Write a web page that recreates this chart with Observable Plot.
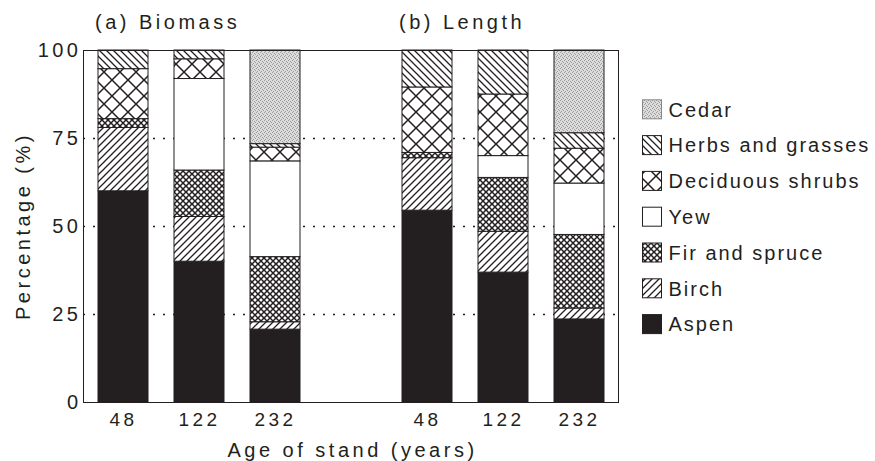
<!DOCTYPE html>
<html>
<head>
<meta charset="utf-8">
<script src="https://cdn.jsdelivr.net/npm/d3@7"></script>
<script src="https://cdn.jsdelivr.net/npm/@observablehq/plot@0.6"></script>
<style>
  html, body { margin: 0; padding: 0; background: #fff; overflow: hidden; }
  #chart { position: relative; width: 875px; height: 461px; }
  svg text { letter-spacing: 3.5px; }
  svg text.legend-text { letter-spacing: 2px; }
</style>
</head>
<body>
<div id="chart"></div>
<script>
// ---- data ----
const ages = ["48", "122", "232"];
const panels = ["a", "b"];
const panelTitles = ["(a) Biomass", "(b) Length"];
const species = ["Aspen", "Birch", "Fir and spruce", "Yew", "Deciduous shrubs", "Herbs and grasses", "Cedar"];
const yTicks = [0, 25, 50, 75, 100];
const gridTicks = [25, 50, 75];

// values per species, in the order of ages (48, 122, 232)
const biomassAspen  = [60, 40, 20.7];
const biomassBirch  = [18, 12.7, 2.1];
const biomassFir    = [2.5, 13.2, 18.5];
const biomassYew    = [0, 26, 27.2];
const biomassDecid  = [14.2, 5.6, 3.9];
const biomassHerbs  = [5.3, 2.5, 1.0];
const biomassCedar  = [0, 0, 26.6];

const lengthAspen  = [54.5, 36.9, 23.6];
const lengthBirch  = [14.9, 11.6, 3.1];
const lengthFir    = [1.5, 15.3, 20.9];
const lengthYew    = [0, 6.2, 14.6];
const lengthDecid  = [18.6, 17.5, 9.9];
const lengthHerbs  = [10.5, 12.5, 4.4];
const lengthCedar  = [0, 0, 23.5];

const biomass = [biomassAspen, biomassBirch, biomassFir, biomassYew, biomassDecid, biomassHerbs, biomassCedar];
const lengthV = [lengthAspen, lengthBirch, lengthFir, lengthYew, lengthDecid, lengthHerbs, lengthCedar];

// ---- build table ----
const slots = ["a48", "a122", "a232", "gap", "b48", "b122", "b232"];
const slotLabel = s => s === "gap" ? "" : s.slice(1);
const rows = [];
[biomass, lengthV].forEach((set, p) => {
  species.forEach((sp, i) => {
    ages.forEach((age, j) => {
      const v = set[i][j];
      if (v > 0) rows.push({slot: panels[p] + age, species: sp, value: v});
    });
  });
});

const fills = ["#231f20", "url(#pBirch)", "url(#pFir)", "#ffffff", "url(#pDecid)", "url(#pHerbs)", "url(#pCedar)"];
const ink = "#231f20";

const plot = Plot.plot({
  width: 875,
  height: 461,
  marginLeft: 83,
  marginRight: 257,
  marginTop: 50,
  marginBottom: 59,
  style: {fontFamily: "'Liberation Sans', Arial, Helvetica, sans-serif", fontSize: "20px", color: ink, background: "#fff"},
  x: {domain: slots, paddingInner: 0.346, paddingOuter: 0.173, align: 0.5, label: null},
  y: {domain: [0, 100], label: null},
  color: {domain: species, range: fills},
  marks: [
    Plot.ruleY(gridTicks, {stroke: ink, strokeWidth: 1.3, strokeDasharray: "2,8"}),
    Plot.barY(rows, Plot.stackY({x: "slot", y: "value", fill: "species", order: species, stroke: ink, strokeWidth: 1, inset: 0})),
    Plot.frame({stroke: ink, strokeWidth: 1}),
    Plot.axisY({ticks: yTicks, tickSize: 0, tickPadding: 2, label: null, fontSize: 20}),
    Plot.axisX({tickSize: 0, tickPadding: 10, tickFormat: slotLabel, label: null, fontSize: 19})
  ]
});

document.getElementById("chart").appendChild(plot);

const svg = d3.select(plot);
const defs = svg.insert("defs", ":first-child");

function linePattern(id, size, d, sw) {
  const p = defs.append("pattern").attr("id", id).attr("patternUnits", "userSpaceOnUse")
    .attr("width", size).attr("height", size);
  p.append("rect").attr("width", size).attr("height", size).attr("fill", "#fff");
  p.append("path").attr("d", d).attr("stroke", ink).attr("stroke-width", sw).attr("fill", "none");
}
linePattern("pBirch", 7, "M0,7 L7,0 M-1,1 L1,-1 M6,8 L8,6", 1.3);
linePattern("pHerbs", 7, "M0,0 L7,7 M-1,6 L1,8 M6,-1 L8,1", 1.3);
linePattern("pFir", 6, "M-1,-1 L7,7 M7,-1 L-1,7", 1.5);
linePattern("pDecid", 16, "M-1,-1 L17,17 M17,-1 L-1,17", 1.5);
{
  const p = defs.append("pattern").attr("id", "pCedar").attr("patternUnits", "userSpaceOnUse")
    .attr("width", 4).attr("height", 4);
  p.append("rect").attr("width", 4).attr("height", 4).attr("fill", "#dcdcdc");
  [[0, 0], [2, 1], [1, 3], [3, 2]].forEach(([x, y]) =>
    p.append("rect").attr("x", x).attr("y", y).attr("width", 1).attr("height", 1).attr("fill", "#9c9c9c"));
}

const xs = plot.scale("x");
const ys = plot.scale("y");
const textFont = "'Liberation Sans', Arial, Helvetica, sans-serif";

// panel titles
panels.forEach((p, i) => {
  svg.append("text")
    .attr("x", xs.apply(p + "48") - 3)
    .attr("y", 29.3)
    .attr("text-anchor", "start")
    .attr("fill", ink)
    .style("font-family", textFont)
    .style("font-size", "20px")
    .text(panelTitles[i]);
});

// y label
svg.append("text")
  .attr("transform", `translate(30,${(ys.apply(0) + ys.apply(100)) / 2}) rotate(-90)`)
  .attr("text-anchor", "middle")
  .attr("fill", ink)
  .style("font-family", textFont)
  .style("font-size", "20px")
  .text("Percentage (%)");

// x label
svg.append("text")
  .attr("x", (83 + 618) / 2 + 2)
  .attr("y", 456.5)
  .attr("text-anchor", "middle")
  .attr("fill", ink)
  .style("font-family", textFont)
  .style("font-size", "20px")
  .text("Age of stand (years)");

// legend (top: Cedar ... bottom: Aspen)
const legendOrder = species.slice().reverse();
const lg = svg.append("g").attr("text-anchor", "start");
legendOrder.forEach((sp, i) => {
  const cy = 109.3 + i * 35.8;
  const fill = fills[species.indexOf(sp)];
  lg.append("rect")
    .attr("x", 642.5).attr("y", cy - 9.5)
    .attr("width", 19).attr("height", 19)
    .attr("fill", fill)
    .attr("stroke", sp === "Cedar" ? "#888" : ink)
    .attr("stroke-width", 1);
  lg.append("text")
    .attr("class", "legend-text")
    .attr("x", 668.5).attr("y", cy + 7.3)
    .attr("text-anchor", "start")
    .attr("fill", ink)
    .style("font-family", textFont)
    .style("font-size", "20px")
    .text(sp);
});
</script>
</body>
</html>
